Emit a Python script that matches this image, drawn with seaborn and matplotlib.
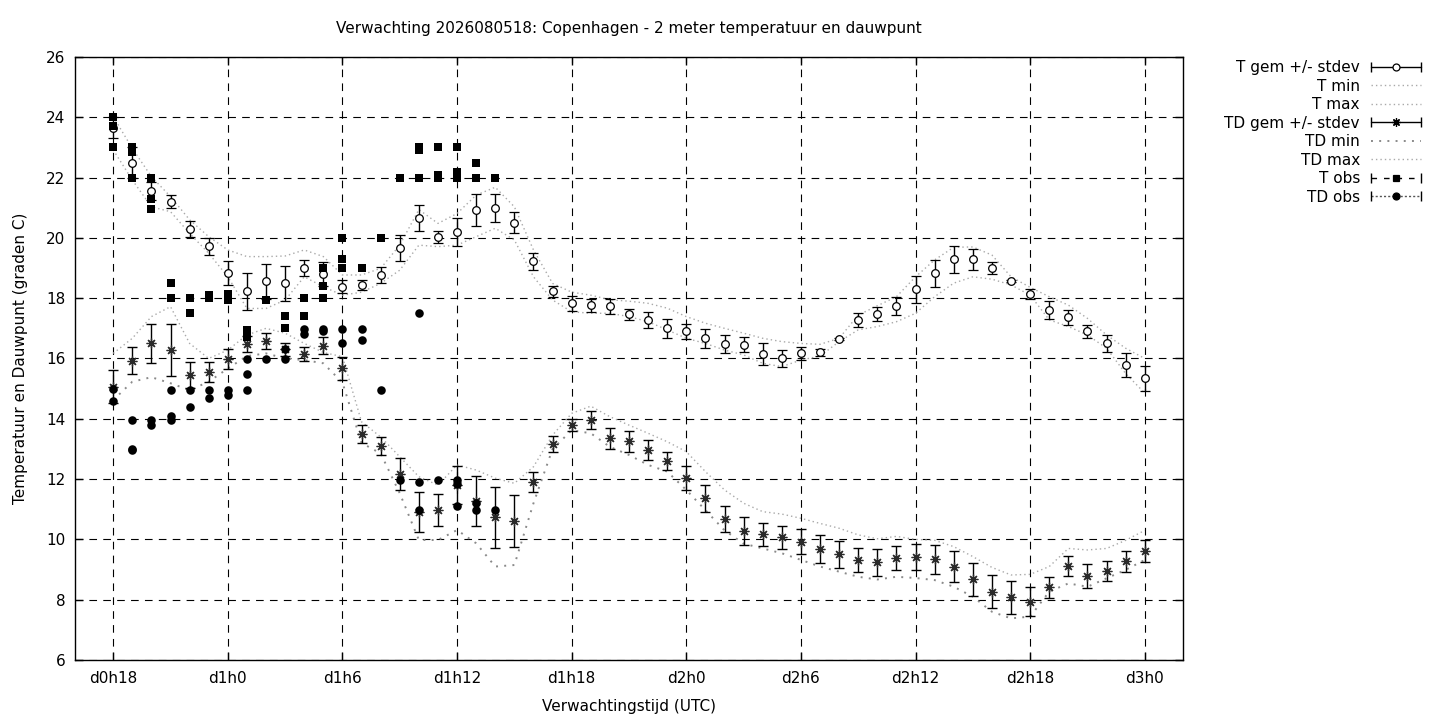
import matplotlib
matplotlib.use("Agg")
import matplotlib.pyplot as plt
from matplotlib.lines import Line2D
from matplotlib.legend_handler import HandlerBase
import pandas as pd
import seaborn as sns

# forecast hours after d0h18
hours = list(range(55))
tick_hours = [0, 6, 12, 18, 24, 30, 36, 42, 48, 54]
tick_labels = ["d0h18", "d1h0", "d1h6", "d1h12", "d1h18",
               "d2h0", "d2h6", "d2h12", "d2h18", "d3h0"]

t_mean = [23.65, 22.5, 21.55, 21.2, 20.3, 19.72, 18.83, 18.23, 18.56, 18.5,
          19.0, 18.8, 18.38, 18.44, 18.76, 19.66, 20.66, 20.03, 20.2, 20.91,
          21.0, 20.5, 19.23, 18.23, 17.83, 17.77, 17.74, 17.47, 17.28, 17.0,
          16.9, 16.67, 16.48, 16.45, 16.14, 16.0, 16.17, 16.2, 16.64, 17.28,
          17.48, 17.74, 18.29, 18.82, 19.29, 19.29, 18.99, 18.57, 18.14, 17.61,
          17.37, 16.9, 16.5, 15.78, 15.34]
t_sd = [0.35, 0.5, 0.3, 0.22, 0.26, 0.28, 0.4, 0.61, 0.58, 0.58,
        0.27, 0.4, 0.22, 0.18, 0.27, 0.43, 0.44, 0.19, 0.47, 0.53,
        0.46, 0.35, 0.28, 0.19, 0.25, 0.22, 0.25, 0.18, 0.26, 0.31,
        0.24, 0.31, 0.3, 0.25, 0.37, 0.28, 0.21, 0.11, 0.04, 0.24,
        0.24, 0.29, 0.45, 0.46, 0.45, 0.35, 0.2, 0.03, 0.15, 0.3,
        0.25, 0.22, 0.27, 0.41, 0.41]
t_max = [24.02, 22.97, 22.03, 21.37, 20.6, 20.04, 19.6, 19.38, 19.38, 19.4,
         19.6, 19.38, 18.77, 18.77, 18.99, 19.76, 20.94, 20.48, 20.81, 21.42,
         21.68, 21.03, 19.6, 18.49, 18.2, 18.1, 17.95, 17.9, 17.83, 17.67,
         17.39, 17.17, 17.0, 16.84, 16.67, 16.56, 16.5, 16.47, 16.67, 17.44,
         17.75, 18.05, 18.71, 19.27, 19.69, 19.7, 19.43, 18.71, 18.36, 18.05,
         17.77, 17.33, 16.78, 16.34, 16.0]
t_min = [22.92, 21.92, 21.03, 20.87, 20.15, 19.49, 18.71, 17.66, 17.66, 17.94,
         18.71, 18.38, 18.1, 18.2, 18.49, 18.93, 19.76, 19.71, 19.76, 20.04,
         20.32, 19.93, 18.71, 17.94, 17.55, 17.5, 17.5, 17.39, 17.22, 16.95,
         16.67, 16.5, 16.28, 16.12, 15.84, 15.73, 15.95, 16.08, 16.56, 16.95,
         17.06, 17.22, 17.5, 18.05, 18.5, 18.71, 18.63, 18.44, 18.1, 17.28,
         17.06, 16.78, 16.34, 15.5, 14.85]

td_mean = [15.07, 15.92, 16.5, 16.27, 15.45, 15.55, 15.97, 16.48, 16.58, 16.3,
           16.15, 16.43, 15.67, 13.5, 13.1, 12.17, 10.92, 10.97, 11.8, 11.27,
           10.73, 10.61, 11.91, 13.16, 13.79, 13.96, 13.35, 13.26, 12.96, 12.6,
           12.03, 11.36, 10.67, 10.28, 10.17, 10.07, 9.93, 9.67, 9.5, 9.32,
           9.24, 9.37, 9.41, 9.34, 9.1, 8.68, 8.27, 8.08, 7.94, 8.41,
           9.13, 8.79, 8.96, 9.28, 9.62]
td_sd = [0.56, 0.45, 0.65, 0.86, 0.44, 0.32, 0.33, 0.25, 0.26, 0.23,
         0.23, 0.29, 0.37, 0.29, 0.3, 0.54, 0.66, 0.53, 0.62, 0.83,
         1.02, 0.85, 0.33, 0.27, 0.21, 0.29, 0.35, 0.35, 0.34, 0.3,
         0.39, 0.46, 0.44, 0.45, 0.38, 0.39, 0.4, 0.46, 0.44, 0.41,
         0.44, 0.4, 0.43, 0.48, 0.52, 0.55, 0.56, 0.54, 0.47, 0.34,
         0.33, 0.41, 0.34, 0.35, 0.37]
td_max = [16.17, 16.67, 17.39, 17.72, 16.5, 16.0, 16.28, 16.78, 17.0, 16.84,
          16.5, 16.2, 16.06, 13.9, 13.4, 12.74, 12.08, 11.8, 12.47, 12.3,
          12.03, 11.86, 12.41, 13.46, 14.18, 14.42, 14.07, 13.79, 13.52, 13.24,
          12.91, 12.25, 11.64, 11.2, 10.92, 10.84, 10.7, 10.53, 10.37, 10.15,
          10.02, 10.1, 10.0, 9.97, 9.76, 9.43, 9.07, 8.82, 8.84, 9.1,
          9.7, 9.65, 9.7, 9.97, 10.3]
td_min = [14.62, 15.23, 15.38, 15.18, 14.95, 15.23, 15.67, 16.08, 16.17, 16.0,
          15.95, 15.84, 15.2, 13.2, 12.85, 11.53, 9.98, 9.98, 10.31, 9.87,
          9.1, 9.15, 11.2, 13.0, 13.62, 13.52, 13.07, 12.8, 12.47, 12.25,
          11.64, 10.97, 10.3, 9.86, 9.7, 9.54, 9.32, 9.1, 8.93, 8.76,
          8.67, 8.76, 8.72, 8.65, 8.43, 8.1, 7.6, 7.38, 7.44, 8.27,
          8.54, 8.43, 8.71, 8.99, 9.32]

# observations (hour, value)
t_obs_hours = [0, 0, 0, 1, 1, 1, 2, 2, 2, 3, 3, 4, 4, 5, 5, 6, 6, 7, 7, 8,
               9, 9, 10, 10, 11, 11, 11, 12, 12, 12, 13, 14, 15,
               16, 16, 16, 17, 17, 17, 18, 18, 18, 18, 19, 19, 20]
t_obs_values = [24.0, 23.7, 23.0, 23.0, 22.85, 22.0, 22.0, 21.3, 20.95,
                18.5, 18.0, 18.0, 17.5, 18.1, 18.0, 18.15, 17.95, 16.95, 16.7,
                17.95, 17.4, 17.0, 18.0, 17.4, 19.0, 18.4, 18.0, 20.0, 19.3,
                19.0, 19.0, 20.0, 22.0, 23.0, 22.9, 22.0, 23.0, 22.1, 22.0,
                23.0, 22.2, 22.1, 22.0, 22.5, 22.0, 22.0]
td_obs_hours = [0, 0, 1, 1, 1, 2, 2, 3, 3, 3, 4, 4, 5, 5, 6, 6, 7, 7, 7, 8,
                9, 9, 10, 10, 11, 11, 12, 12, 13, 13, 14, 15, 16, 16, 16,
                17, 18, 18, 18, 19, 19, 20]
td_obs_values = [15.0, 14.6, 13.95, 13.0, 12.95, 13.95, 13.8, 14.95, 14.1,
                 13.95, 14.95, 14.4, 14.95, 14.7, 14.95, 14.8, 15.97, 15.5,
                 14.95, 15.97, 16.33, 15.97, 16.97, 16.82, 16.97, 16.9, 16.97,
                 16.5, 16.97, 16.6, 14.95, 11.97, 17.5, 11.92, 10.97, 11.97,
                 11.97, 11.85, 11.1, 11.22, 10.97, 10.97]

legend_labels = ["T gem +/- stdev", "T min", "T max", "TD gem +/- stdev",
                 "TD min", "TD max", "T obs", "TD obs"]


class Sample:
    def __init__(self, ls, color="black", lw=1.0, marker=None, mfc="black",
                 ms=5, caps=False):
        self.ls = ls
        self.color = color
        self.lw = lw
        self.marker = marker
        self.mfc = mfc
        self.ms = ms
        self.caps = caps


class SampleHandler(HandlerBase):
    def create_artists(self, legend, orig, xdescent, ydescent, width, height,
                       fontsize, trans):
        x0, x1 = -xdescent, width - xdescent
        y = (height - ydescent) / 2
        arts = [Line2D([x0, x1], [y, y], color=orig.color, linestyle=orig.ls,
                       linewidth=orig.lw, transform=trans)]
        if orig.caps:
            arts.append(Line2D([x0, x1], [y, y], linestyle="none", marker="|",
                               markersize=7, markeredgewidth=1, color="black",
                               transform=trans))
        if orig.marker is not None:
            arts.append(Line2D([(x0 + x1) / 2], [y], linestyle="none",
                               marker=orig.marker, markersize=orig.ms,
                               markerfacecolor=orig.mfc, markeredgecolor="black",
                               markeredgewidth=0.9, transform=trans))
        return arts


sns.set_style("ticks")
plt.rcParams["font.family"] = ["DejaVu Sans"]
plt.rcParams["lines.scale_dashes"] = False
plt.rcParams["text.color"] = "black"
plt.rcParams["axes.labelcolor"] = "black"

light_dots = (0, (1.0, 2.2))
sparse_dots = (0, (1.4, 4.5))
star = (8, 2, 0)

fig, ax = plt.subplots(figsize=(14.4, 7.2), dpi=100)
fig.subplots_adjust(left=75 / 1440, right=1183 / 1440,
                    top=1 - 57 / 720, bottom=1 - 660 / 720)

ax.grid(True, color="black", linestyle=(0, (5.5, 4.5)), linewidth=0.8)
ax.set_axisbelow(True)

sns.lineplot(x=hours, y=t_min, ax=ax, color="#a9a9a9", linewidth=1.0,
             linestyle=light_dots, estimator=None)
sns.lineplot(x=hours, y=t_max, ax=ax, color="#a9a9a9", linewidth=1.0,
             linestyle=light_dots, estimator=None)
sns.lineplot(x=hours, y=td_min, ax=ax, color="#8a8a8a", linewidth=1.4,
             linestyle=sparse_dots, estimator=None)
sns.lineplot(x=hours, y=td_max, ax=ax, color="#a9a9a9", linewidth=1.0,
             linestyle=light_dots, estimator=None)

ax.errorbar(hours, t_mean, yerr=t_sd, fmt="o", color="black", ecolor="black",
            elinewidth=1, capsize=3.5, capthick=1, markersize=5.5,
            markerfacecolor="white", markeredgecolor="black",
            markeredgewidth=0.9, zorder=3)
ax.errorbar(hours, td_mean, yerr=td_sd, fmt="none", ecolor="black",
            elinewidth=1, capsize=3.5, capthick=1, zorder=3)
ax.plot(hours, td_mean, linestyle="none", marker=star, markersize=7,
        color="#2a2a2a", markeredgewidth=0.9, zorder=4)

t_obs = pd.DataFrame({"uur": t_obs_hours, "temp": t_obs_values})
td_obs = pd.DataFrame({"uur": td_obs_hours, "temp": td_obs_values})
sns.scatterplot(data=t_obs, x="uur", y="temp", ax=ax, marker="s", s=30,
                color="black", edgecolor="black", linewidth=0, zorder=5)
sns.scatterplot(data=td_obs, x="uur", y="temp", ax=ax, marker="o", s=38,
                color="black", edgecolor="black", linewidth=0, zorder=5)

ax.set_xlim(-2, 56)
ax.set_ylim(6, 26)
ax.set_xticks(tick_hours)
ax.set_xticklabels(tick_labels)
ax.set_yticks(range(6, 27, 2))
ax.tick_params(direction="in", top=True, right=True, length=6, width=1,
               labelsize=11, colors="black")
ax.tick_params(axis="x", pad=8)
ax.tick_params(axis="y", pad=7)
for side in ax.spines.values():
    side.set_color("black")
    side.set_linewidth(1)

ax.set_xlabel("Verwachtingstijd (UTC)", fontsize=11, labelpad=9)
ax.set_ylabel("Temperatuur en Dauwpunt (graden C)", fontsize=11, labelpad=13)
ax.set_title("Verwachting 2026080518: Copenhagen - 2 meter temperatuur en dauwpunt",
             fontsize=11, pad=17, color="black")

handles = [
    Sample("-", marker="o", mfc="white", ms=5, caps=True),
    Sample(light_dots, color="#a9a9a9"),
    Sample(light_dots, color="#a9a9a9"),
    Sample("-", marker=star, mfc="black", ms=6, caps=True),
    Sample(sparse_dots, color="#8a8a8a", lw=1.4),
    Sample(light_dots, color="#a9a9a9"),
    Sample((0, (4, 5)), marker="s", ms=5, caps=True),
    Sample((0, (1.5, 1.5)), color="#555555", marker="o", ms=5, caps=True),
]
fig.legend(handles, legend_labels, loc="upper right",
           bbox_to_anchor=(1421 / 1440, 1 - 60 / 720), markerfirst=False,
           frameon=False, fontsize=11, handlelength=3.3, handletextpad=0.7,
           labelspacing=0.23, borderpad=0, borderaxespad=0,
           handler_map={Sample: SampleHandler()})

fig.savefig("out.png", dpi=100)
plt.close(fig)
